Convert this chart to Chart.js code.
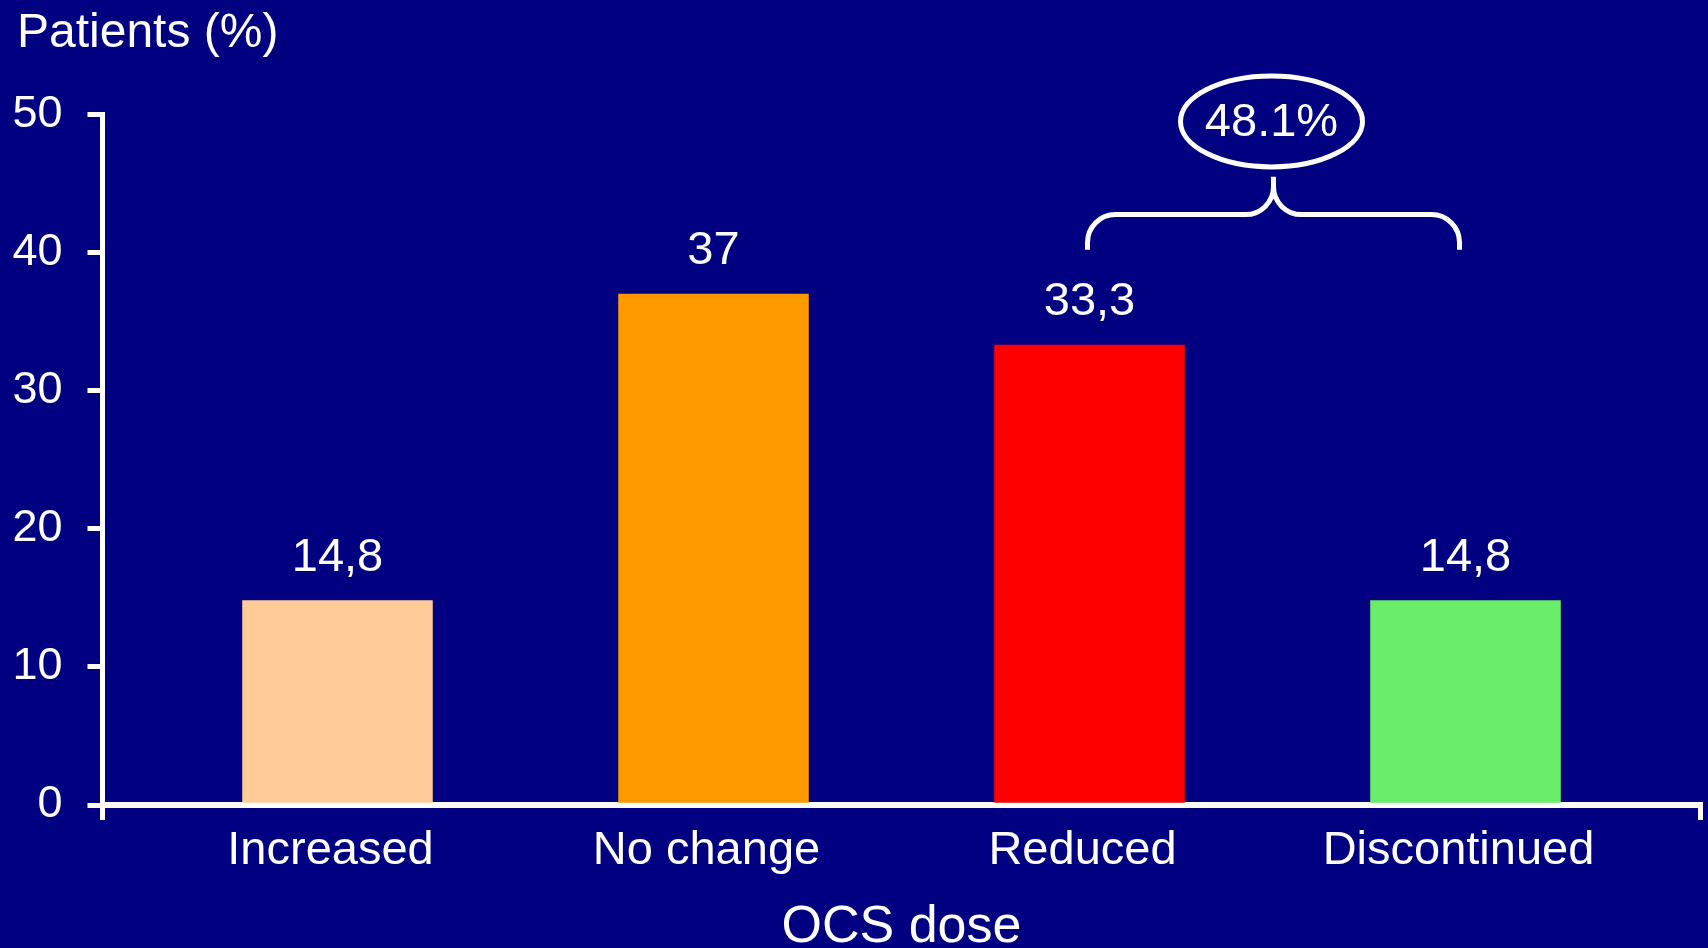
<!DOCTYPE html>
<html>
<head>
<meta charset="utf-8">
<title>OCS dose</title>
<script src="https://cdn.jsdelivr.net/npm/chart.js@4.4.1/dist/chart.umd.min.js"></script>
<style>
  html, body { margin: 0; padding: 0; background: #000080; overflow: hidden; }
  #wrap { width: 1708px; height: 948px; position: relative; }
</style>
</head>
<body>
<div id="wrap"><canvas id="chart"></canvas></div>
<script>
// Change in oral corticosteroid dose, share of patients
const categories = ['Increased', 'No change', 'Reduced', 'Discontinued'];
const percentages = [14.8, 37, 33.3, 14.8];
const barColors = ['#FFCC99', '#FF9900', '#FF0000', '#6AEE6A'];
const yTickValues = [0, 10, 20, 30, 40, 50];
const yAxisTitle = 'Patients (%)';
const xAxisTitle = 'OCS dose';
// bars grouped under the brace (Reduced + Discontinued)
const bracedBars = [2, 3];

const FONT = '"Liberation Sans", Arial, Helvetica, sans-serif';
const WHITE = '#FFFFFF';

const fmt = v => String(v).replace('.', ',');

const overlay = {
  id: 'overlay',
  afterDatasetsDraw(chart) {
    const { ctx, scales: { x, y } } = chart;
    const meta = chart.getDatasetMeta(0);
    ctx.save();
    ctx.fillStyle = WHITE;
    ctx.strokeStyle = WHITE;

    // value above each bar
    ctx.font = `47px ${FONT}`;
    ctx.textAlign = 'center';
    ctx.textBaseline = 'alphabetic';
    meta.data.forEach((bar, i) => {
      ctx.fillText(fmt(percentages[i]), bar.x, bar.y - 30);
    });

    // y-axis caption
    ctx.font = `48px ${FONT}`;
    ctx.textAlign = 'left';
    ctx.fillText(yAxisTitle, 17, 46.5);

    // brace over the grouped bars
    const xL = x.getPixelForValue(bracedBars[0]) - 2;
    const xR = x.getPixelForValue(bracedBars[1]) - 6;
    const xM = (xL + xR) / 2;
    const yEnd = y.getPixelForValue(40.2);
    const yBar = y.getPixelForValue(42.75);
    const yPeak = y.getPixelForValue(45.5);
    const r = 28;
    ctx.lineWidth = 5;
    ctx.lineCap = 'butt';
    ctx.beginPath();
    ctx.moveTo(xL, yEnd);
    ctx.lineTo(xL, yBar + r);
    ctx.arc(xL + r, yBar + r, r, Math.PI, Math.PI * 1.5, false);
    ctx.lineTo(xM - r, yBar);
    ctx.arc(xM - r, yBar - r, r, Math.PI * 0.5, 0, true);
    ctx.lineTo(xM, yPeak);
    ctx.moveTo(xM, yPeak);
    ctx.lineTo(xM, yBar - r);
    ctx.arc(xM + r, yBar - r, r, Math.PI, Math.PI * 0.5, true);
    ctx.lineTo(xR - r, yBar);
    ctx.arc(xR - r, yBar + r, r, Math.PI * 1.5, Math.PI * 2, false);
    ctx.lineTo(xR, yEnd);
    ctx.stroke();

    // combined share in an ellipse
    const total = bracedBars.reduce((s, i) => s + percentages[i], 0);
    const yEll = y.getPixelForValue(49.5);
    const xEll = xM - 2;
    ctx.beginPath();
    ctx.ellipse(xEll, yEll, 91, 45.5, 0, 0, Math.PI * 2);
    ctx.stroke();
    ctx.font = `47px ${FONT}`;
    ctx.textAlign = 'center';
    ctx.textBaseline = 'middle';
    ctx.fillText(total.toFixed(1) + '%', xEll, yEll + 1.5);

    ctx.restore();
  }
};

const xMin = -0.625;
const xMax = categories.length - 1 + 0.625;

new Chart(document.getElementById('chart'), {
  type: 'bar',
  data: {
    datasets: [{
      data: categories.map((c, i) => ({ x: i, y: percentages[i] })),
      backgroundColor: barColors,
      borderWidth: 0,
      barThickness: ctx => {
        const xs = ctx.chart.scales.x;
        return 0.505 * (xs.getPixelForValue(1) - xs.getPixelForValue(0));
      }
    }]
  },
  options: {
    responsive: true,
    maintainAspectRatio: false,
    animation: false,
    events: [],
    layout: { padding: { top: 114.5, right: 7.5, left: 0, bottom: 0 } },
    plugins: { legend: { display: false }, tooltip: { enabled: false }, title: { display: false } },
    scales: {
      x: {
        type: 'linear',
        offset: false,
        min: xMin,
        max: xMax,
        afterBuildTicks: axis => {
          axis.ticks = [xMin, ...categories.map((c, i) => i), xMax].map(v => ({ value: v }));
        },
        afterFit: axis => { axis.height = 143; },
        ticks: {
          autoSkip: false,
          maxRotation: 0,
          padding: 3,
          labelOffset: -7,
          color: WHITE,
          font: { family: FONT, size: 47 },
          callback: v => Number.isInteger(v) ? categories[v] : ''
        },
        grid: {
          offset: false,
          drawOnChartArea: false,
          drawTicks: true,
          tickLength: 15,
          lineWidth: 5,
          color: ctx => (ctx.tick && Number.isInteger(ctx.tick.value)) ? 'rgba(0,0,0,0)' : WHITE
        },
        border: { display: true, color: WHITE, width: 6 },
        title: {
          display: true,
          text: xAxisTitle,
          color: WHITE,
          padding: 0,
          font: { family: FONT, size: 52, lineHeight: 0.8 }
        }
      },
      y: {
        min: yTickValues[0],
        max: yTickValues[yTickValues.length - 1],
        afterBuildTicks: axis => { axis.ticks = yTickValues.map(v => ({ value: v })); },
        afterFit: axis => { axis.width = 102.5; },
        ticks: {
          padding: 25,
          color: WHITE,
          font: { family: FONT, size: 45 }
        },
        grid: {
          drawOnChartArea: false,
          drawTicks: true,
          tickLength: 15,
          lineWidth: 5,
          color: WHITE
        },
        border: { display: true, color: WHITE, width: 5 }
      }
    }
  },
  plugins: [overlay]
});
</script>
</body>
</html>
